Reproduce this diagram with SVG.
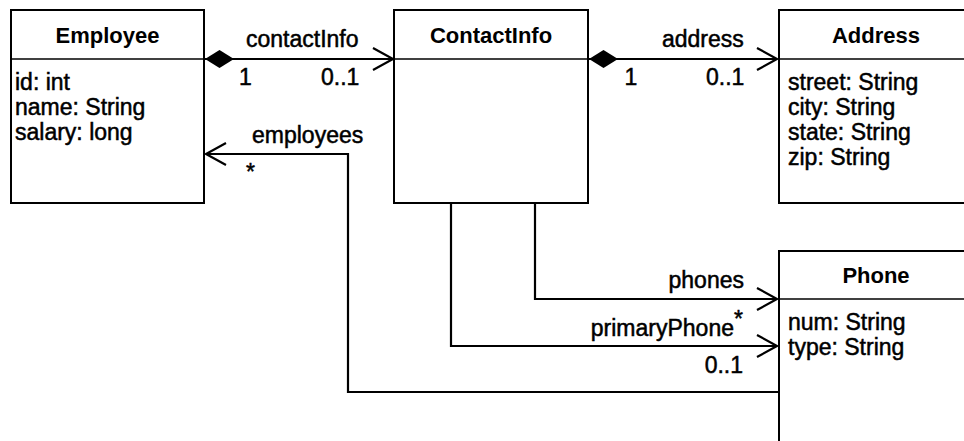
<svg xmlns="http://www.w3.org/2000/svg" width="964" height="441" viewBox="0 0 964 441">
<style>
text{font-family:"Liberation Sans",Arial,Helvetica,sans-serif;fill:#000}
.t{font-size:22px;font-weight:bold;text-anchor:middle}
.a,.l{font-size:23px;stroke:#000;stroke-width:0.5}
.e{text-anchor:end}
.box{fill:#fff;stroke:#000;stroke-width:2}
.div{stroke:#000;stroke-width:1.6}
.c{fill:none;stroke:#000;stroke-width:2.2}
</style>
<defs>
<marker id="open" markerUnits="userSpaceOnUse" viewBox="-24 -14 28 28" markerWidth="28" markerHeight="28" refX="0" refY="0" orient="auto" overflow="visible">
<path d="M-20,-11 L0,0 L-20,11" fill="none" stroke="#000" stroke-width="2.2"/>
</marker>
<marker id="dia" markerUnits="userSpaceOnUse" viewBox="-2 -12 34 24" markerWidth="34" markerHeight="24" refX="0" refY="0" orient="auto" overflow="visible">
<path d="M0,0 L14.5,-9 L29,0 L14.5,9 Z" fill="#000"/>
</marker>
</defs>
<rect width="964" height="441" fill="#fff"/>
<g id="connectors">
<path class="c" d="M205,59 H393" marker-start="url(#dia)" marker-end="url(#open)"/>
<path class="c" d="M589,59 H777" marker-start="url(#dia)" marker-end="url(#open)"/>
<path class="c" d="M779,392 H348 V154 H206" marker-end="url(#open)"/>
<path class="c" d="M535,203 V299 H777" marker-end="url(#open)"/>
<path class="c" d="M451,203 V346 H777" marker-end="url(#open)"/>
<text class="l" x="246" y="47">contactInfo</text>
<text class="l" x="239" y="85">1</text>
<text class="l" x="321" y="85">0..1</text>
<text class="l" x="662" y="47">address</text>
<text class="l" x="624.5" y="85">1</text>
<text class="l" x="706" y="85">0..1</text>
<text class="l" x="252" y="143">employees</text>
<text class="l" x="246" y="180">*</text>
<text class="l e" x="744" y="288">phones</text>
<text class="l e" x="734" y="336">primaryPhone</text>
<text class="l" x="734" y="327">*</text>
<text class="l e" x="743" y="373">0..1</text>
</g>
<g id="Employee">
<rect class="box" x="11" y="10" width="193" height="193"/>
<line class="div" x1="11" y1="59" x2="204" y2="59"/>
<text class="t" x="107.5" y="43">Employee</text>
<text class="a" x="15" y="90">id: int</text>
<text class="a" x="15" y="115">name: String</text>
<text class="a" x="15" y="140">salary: long</text>
</g>
<g id="ContactInfo">
<rect class="box" x="394" y="10" width="194" height="193"/>
<line class="div" x1="394" y1="59" x2="588" y2="59"/>
<text class="t" x="491" y="43">ContactInfo</text>
</g>
<g id="Address">
<rect class="box" x="779" y="10" width="194" height="193"/>
<line class="div" x1="779" y1="59" x2="973" y2="59"/>
<text class="t" x="876" y="43">Address</text>
<text class="a" x="788" y="90">street: String</text>
<text class="a" x="788" y="115">city: String</text>
<text class="a" x="788" y="140">state: String</text>
<text class="a" x="788" y="165">zip: String</text>
</g>
<g id="Phone">
<rect class="box" x="779" y="251" width="194" height="210"/>
<line class="div" x1="779" y1="299" x2="973" y2="299"/>
<text class="t" x="876" y="283">Phone</text>
<text class="a" x="788" y="330">num: String</text>
<text class="a" x="788" y="355">type: String</text>
</g>
</svg>
